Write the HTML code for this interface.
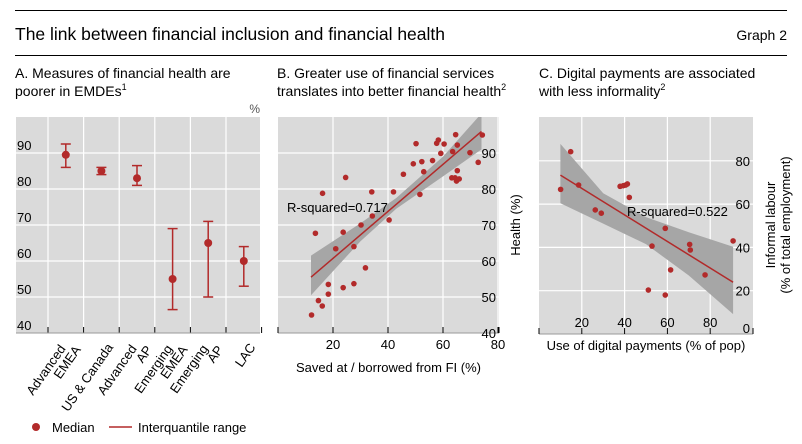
<!DOCTYPE html>
<html><head><meta charset="utf-8">
<style>
body{margin:0;background:#fff;}
svg{display:block;font-family:"Liberation Sans",sans-serif;}
</style></head>
<body>
<svg id="chart" width="802" height="444" viewBox="0 0 802 444" xmlns="http://www.w3.org/2000/svg">
<line x1="15" y1="10.5" x2="787" y2="10.5" stroke="#000" stroke-width="1"/>
<text x="15" y="40" font-size="17.5" fill="#000">The link between financial inclusion and financial health</text>
<text x="787" y="40" font-size="14" text-anchor="end" fill="#000">Graph 2</text>
<line x1="15" y1="55.5" x2="787" y2="55.5" stroke="#000" stroke-width="1"/>
<text font-size="14" fill="#000"><tspan x="15" y="78">A. Measures of financial health are</tspan><tspan x="15" y="96">poorer in EMDEs</tspan><tspan font-size="9" dy="-6">1</tspan></text>
<text font-size="14" fill="#000"><tspan x="277" y="78">B. Greater use of financial services</tspan><tspan x="277" y="96">translates into better financial health</tspan><tspan font-size="9" dy="-6">2</tspan></text>
<text font-size="14" fill="#000"><tspan x="539" y="78">C. Digital payments are associated</tspan><tspan x="539" y="96">with less informality</tspan><tspan font-size="9" dy="-6">2</tspan></text>
<g id="pa"></g><g id="pb"></g><g id="pc"></g>
<g>
<circle cx="36" cy="427" r="4" fill="#b22a2a"/>
<text x="52" y="432" font-size="13">Median</text>
<line x1="109" y1="427" x2="132" y2="427" stroke="#b22a2a" stroke-width="1.5"/>
<text x="138" y="432" font-size="13">Interquantile range</text>
</g>
</svg>
<script>
const NS="http://www.w3.org/2000/svg";
const RED="#b22a2a";
// Panel A data
const catsA=["Advanced EMEA","US & Canada","Advanced AP","Emerging EMEA","Emerging AP","LAC"];
const medA=[89.5,85,83,55,65,60];
const loA=[86,84,81,46.5,50,53];
const hiA=[92.5,86,86.5,69,71,64];
const ticksA=[40,50,60,70,80,90];
// Panel B data
const bx=[12.2,14.7,16.1,18.3,18.3,16.2,13.6,21,23.7,23.7,24.6,27.6,27.6,30.2,31.8,34.1,34.3,40.4,42,45.6,49.2,50.2,51.6,52.3,53,56.2,57.7,58.3,59.2,60.4,63.2,63.5,64.4,64.6,65.2,65.2,64.9,65.9,69.8,72.8,74.3];
const by=[45,49,47.5,50.8,53.5,78.8,67.7,63.4,68,52.6,83.2,64,53.7,70,58.1,79.2,72.5,71.4,79.2,84.1,87,92.6,78.5,87.6,84.8,87.9,92.7,93.6,89.9,92.5,83.1,90.4,83.1,95.1,92.2,85.1,82.2,82.8,90.1,87.4,95];
const fitB=[[12,55.5],[74,96]];
const bandBx=[12,30,43,60,74];
const bandBlo=[50.5,65.5,74.5,83.5,91];
const bandBhi=[61.5,70.5,77.5,89,101];
const ticksBx=[20,40,60,80];
const ticksBy=[40,50,60,70,80,90];
// Panel C data
const cx=[10.1,14.8,18.5,26.3,29.1,37.9,39.4,40.5,41.3,42.2,52.8,51.1,59,59,61.5,70.4,70.7,77.6,90.7];
const cy=[66.8,84.2,68.8,57.3,55.8,68.2,68.5,68.8,69.3,63.1,40.6,20.3,48.8,18,29.6,41.4,38.8,27.3,43];
const fitC=[[10,73.4],[90.7,23.9]];
const bandCx=[10,30,50,70,90.7];
const bandClo=[60.4,51,41.5,27,9.2];
const bandChi=[87.8,65,54,47,40.3];
const ticksCx=[20,40,60,80];
const ticksCy=[0,20,40,60,80];

function el(tag,attrs,parent,name,inter){const e=document.createElementNS(NS,tag);for(const k in attrs)e.setAttribute(k,attrs[k]);


parent.appendChild(e);return e;}
function txt(s,attrs,parent,name){const t=el('text',attrs,parent,name);t.textContent=s;return t;}

// ---- Panel A
(function(){
 const g=document.getElementById('pa');
 const L=16,R=260,T=117,B=333;
 const y=v=>B-(v-40)*3.6;
 const cw=35.6, x0=48;
 const xc=i=>x0+cw*(i+0.5);
 el('rect',{x:L,y:T,width:R-L,height:B-T,fill:"#dadada"},g,'panel-a-plot-area');
 ticksA.forEach(v=>{ if(v>40) el('line',{x1:L,x2:R,y1:y(v),y2:y(v),stroke:"#fff","stroke-width":1.2},g,'panel-a-gridline');});
 for(let i=0;i<=catsA.length;i++){ el('line',{x1:x0+cw*i,x2:x0+cw*i,y1:T,y2:B,stroke:"#fff","stroke-width":1.2},g,'panel-a-vgrid');
   el('line',{x1:x0+cw*i,x2:x0+cw*i,y1:B-6,y2:B,stroke:"#000","stroke-width":1},g,'panel-a-xtick');}
 el('line',{x1:L,x2:R,y1:B,y2:B,stroke:"#999","stroke-width":1},g,'panel-a-x-axis');
 ticksA.forEach(v=>txt(String(v),{x:17,y:y(v)-3,"font-size":13},g,'panel-a-y-tick-label'));
 txt('%',{x:260,y:113,"font-size":12,fill:"#555","text-anchor":"end"},g,'panel-a-unit');
 catsA.forEach((c,i)=>{
  const X=xc(i);
  el('line',{x1:X,x2:X,y1:y(loA[i]),y2:y(hiA[i]),stroke:RED,"stroke-width":1.5},g,'iqr-bar');
  el('line',{x1:X-5,x2:X+5,y1:y(loA[i]),y2:y(loA[i]),stroke:RED,"stroke-width":1.5},g,'iqr-cap-low');
  el('line',{x1:X-5,x2:X+5,y1:y(hiA[i]),y2:y(hiA[i]),stroke:RED,"stroke-width":1.5},g,'iqr-cap-high');
  el('circle',{cx:X,cy:y(medA[i]),r:4,fill:RED},g,'median-point');
  const parts=c==="US & Canada"?[c]:c.split(' ');
  const t=el('text',{transform:`translate(${X+9},${B+12}) rotate(-55)`,"font-size":13,"text-anchor":"end"},g,'panel-a-x-label');
  parts.forEach((p,k)=>{const s=document.createElementNS(NS,'tspan');s.setAttribute('x',parts.length>1&&k==0?-8:0);s.setAttribute('dy',k==0?(parts.length>1?-5:4):13);s.textContent=p;t.appendChild(s);});
 });
})();

function scatterPanel(id,o){
 const g=document.getElementById(id);
 const {L,R,T,B,xs,ys}=o;
 el('rect',{x:L,y:T,width:R-L,height:B-T,fill:"#dadada"},g,o.p+'-plot-area');
 o.ty.forEach(v=>el('line',{x1:L,x2:R,y1:ys(v),y2:ys(v),stroke:"#fff","stroke-width":1.2},g,o.p+'-gridline'));
 o.tx.forEach(v=>el('line',{x1:xs(v),x2:xs(v),y1:T,y2:B,stroke:"#fff","stroke-width":1.2},g,o.p+'-vgrid'));
 el('line',{x1:L,x2:R,y1:B,y2:B,stroke:"#999","stroke-width":1},g,o.p+'-x-axis');
 [0].concat(o.tx).forEach(v=>el('line',{x1:xs(v),x2:xs(v),y1:B-6,y2:B,stroke:"#000","stroke-width":1},g,o.p+'-xtick'));
 el('line',{x1:R,x2:R,y1:B-6,y2:B,stroke:"#000","stroke-width":1},g,o.p+'-xtick');
 let d='';o.bx.forEach((v,i)=>d+=(i?'L':'M')+xs(v)+','+ys(o.bhi[i]));
 for(let i=o.bx.length-1;i>=0;i--)d+='L'+xs(o.bx[i])+','+ys(o.blo[i]);
 const cp=el('clipPath',{id:id+'clip'},g,o.p+'-clip');el('rect',{x:L,y:T,width:R-L,height:B-T},cp,o.p+'-clip-rect');
 el('path',{d:d+'Z',fill:"#a6a6a6","clip-path":`url(#${id}clip)`},g,o.p+'-confidence-band');
 el('line',{x1:xs(o.fit[0][0]),y1:ys(o.fit[0][1]),x2:xs(o.fit[1][0]),y2:ys(o.fit[1][1]),stroke:RED,"stroke-width":1.5},g,o.p+'-fit-line');
 o.x.forEach((v,i)=>el('circle',{cx:xs(v),cy:ys(o.y[i]),r:2.8,fill:RED},g,o.p+'-point'));
 o.ty.forEach(v=>txt(String(v),{x:R-3,y:ys(v)+5,"font-size":13,"text-anchor":"end"},g,o.p+'-y-tick-label'));
 o.tx.forEach(v=>txt(String(v),{x:xs(v),y:B+o.txo,"font-size":13,"text-anchor":"middle"},g,o.p+'-x-tick-label'));
 txt(o.r2,{x:o.r2x,y:o.r2y,"font-size":13},g,o.p+'-r-squared');
 txt(o.xt,{x:(L+R)/2,y:o.xty,"font-size":13,"text-anchor":"middle"},g,o.p+'-x-title');
}
scatterPanel('pb',{p:'panel-b',L:278,R:499,T:117,B:333,xs:v=>278+v*2.75,ys:v=>333-(v-40)*3.6,txo:16,
 x:bx,y:by,fit:fitB,bx:bandBx,blo:bandBlo,bhi:bandBhi,tx:ticksBx,ty:ticksBy.slice(1),
 r2:'R-squared=0.717',r2x:287,r2y:212,xt:'Saved at / borrowed from FI (%)',xty:372});
txt('40',{x:496,y:338,"font-size":13,"text-anchor":"end"},document.getElementById('pb'),'panel-b-y-tick-label');
scatterPanel('pc',{p:'panel-c',L:539,R:753,T:117,B:334,xs:v=>539+v*2.14,ys:v=>334-v*2.165,txo:-7,
 x:cx,y:cy,fit:fitC,bx:bandCx,blo:bandClo,bhi:bandChi,tx:ticksCx,ty:ticksCy.slice(1),
 r2:'R-squared=0.522',r2x:627,r2y:216,xt:'Use of digital payments (% of pop)',xty:350});
txt('0',{x:750,y:333,"font-size":13,"text-anchor":"end"},document.getElementById('pc'),'panel-c-y-tick-label');
const gb=document.getElementById('pb');
txt('Health (%)',{transform:'translate(520,225) rotate(-90)',"font-size":13,"text-anchor":"middle"},gb,'panel-b-y-title');
const gc=document.getElementById('pc');
const yt=el('text',{transform:'translate(775,225) rotate(-90)',"font-size":13,"text-anchor":"middle"},gc,'panel-c-y-title');
yt.innerHTML='<tspan x="0" dy="0">Informal labour</tspan><tspan x="0" dy="15">(% of total employment)</tspan>';
</script>
</body></html>
